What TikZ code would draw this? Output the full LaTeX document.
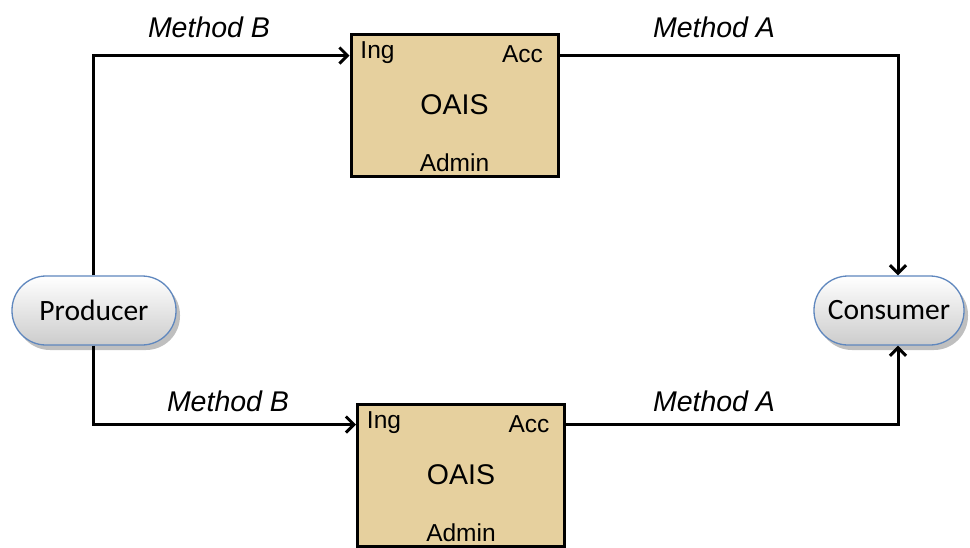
\documentclass[tikz,border=0pt]{standalone}
\usepackage{fontspec}
\setmainfont{Liberation Sans}
\newfontfamily\pillfont{Carlito}
\usetikzlibrary{arrows.meta,shadows,positioning}
\definecolor{papyrus}{RGB}{230,208,158}
\definecolor{pillblue}{RGB}{95,135,190}
\tikzset{
  oaisbox/.style={draw=black, line width=3pt, fill=papyrus, minimum width=207pt, minimum height=142pt, inner sep=0pt},
  pill/.style={draw=pillblue, line width=1.3pt, rounded corners=34pt, top color=white, bottom color=black!20,
    minimum height=69pt, inner sep=0pt, font=\pillfont\fontsize{29.5}{31}\selectfont,
    drop shadow={shadow xshift=4pt, shadow yshift=-5pt, opacity=0.25, fill=black}},
  conn/.style={line width=3pt, -{Straight Barb[length=8pt,width=16pt,line width=3pt]}},
  small/.style={font=\fontsize{24.5}{26}\selectfont, inner sep=0pt},
  big/.style={font=\fontsize{28.5}{30}\selectfont, inner sep=0pt},
  meth/.style={font=\itshape\fontsize{28.5}{30}\selectfont, inner sep=0pt}
}
\begin{document}
\begin{tikzpicture}[x=1pt,y=-1pt]
\useasboundingbox (0,0) rectangle (970,547);
\fill[white] (0,0) rectangle (970,547);
% pills
\node[pill, minimum width=164pt] (prod) at (94,310.5) {Producer};
\node[pill, minimum width=150pt] (cons) at (889,310.5) {Consumer};
% boxes
\node[oaisbox] (oais1) at (454.5,105) {};
\node[oaisbox] (oais2) at (461,475) {};
% box labels
\foreach \b in {oais1,oais2}{
  \node[small] (\b ing) at ([xshift=28pt,yshift=-20pt]\b.north west) {Ing};
  \node[small] (\b acc) at ([xshift=-37pt,yshift=-22pt]\b.north east) {Acc};
  \node[big] (\b name) at ([yshift=-72pt]\b.north) {OAIS};
  \node[small] (\b adm) at ([yshift=-130pt]\b.north) {Admin};
}
% connectors
\coordinate (in1) at ([yshift=-23pt]oais1.north west);
\coordinate (out1) at ([yshift=-23pt]oais1.north east);
\coordinate (in2) at ([yshift=-22pt]oais2.north west);
\coordinate (out2) at ([yshift=-22pt]oais2.north east);
\coordinate (ctop) at ([xshift=9pt]cons.north);
\coordinate (cbot) at ([xshift=9pt]cons.south);
\coordinate (ptop) at ([xshift=-1pt]prod.north);
\coordinate (pbot) at ([xshift=-1pt]prod.south);
\draw[conn] (ptop) |- (in1);
\draw[conn] (out1) -| (ctop);
\draw[conn] (pbot) |- (in2);
\draw[conn] (out2) -| (cbot);
% method labels
\node[meth] (mb1) at (209,27) {Method B};
\node[meth] (ma1) at (714,27) {Method A};
\node[meth] (mb2) at (228,401) {Method B};
\node[meth] (ma2) at (714,401) {Method A};
\end{tikzpicture}
\end{document}
